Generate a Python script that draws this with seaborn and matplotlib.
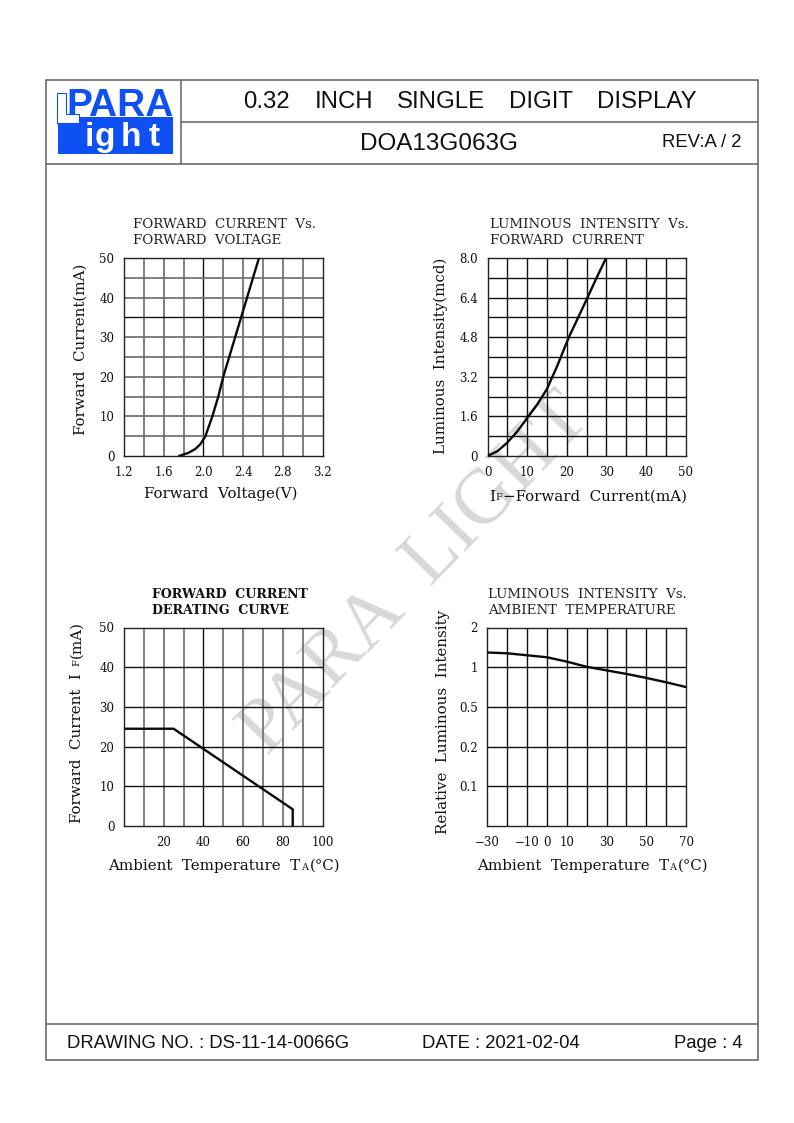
import matplotlib
matplotlib.use("Agg")
import matplotlib.pyplot as plt
from matplotlib.patches import Rectangle, Polygon
import pandas as pd
import seaborn as sns

W, H = 794, 1123
sns.set_theme(style="white")
plt.rcParams["font.family"] = ["DejaVu Serif"]

# ---------- data ----------
fv_voltage = [1.755, 1.85, 1.92, 1.97, 2.02, 2.09, 2.15, 2.20, 2.56]
fv_current = [0, 0.8, 1.8, 3.0, 5.0, 10, 15, 20, 50]
li_current = [0, 2.5, 5, 7.5, 10, 12.5, 15, 17.5, 20.5, 23, 25.2, 27.5, 29.9]
li_mcd = [0, 0.2, 0.55, 1.0, 1.54, 2.08, 2.72, 3.62, 4.8, 5.65, 6.4, 7.2, 8.0]
dr_temp = [0, 25, 85, 85]
dr_current = [24.5, 24.5, 4.2, 0]
rl_temp = [-30, -20, -10, 0, 10, 20, 30, 40, 50, 60, 70]
rl_pos = [4.37, 4.35, 4.30, 4.25, 4.14, 4.01, 3.92, 3.83, 3.73, 3.62, 3.50]

fv_xticks = [1.2, 1.6, 2.0, 2.4, 2.8, 3.2]
fv_yticks = [0, 10, 20, 30, 40, 50]
li_xticks = [0, 10, 20, 30, 40, 50]
li_yticks = [0, 1.6, 3.2, 4.8, 6.4, 8.0]
li_ylabels = ["0", "1.6", "3.2", "4.8", "6.4", "8.0"]
dr_xticks = [20, 40, 60, 80, 100]
dr_yticks = [0, 10, 20, 30, 40, 50]
rl_xticks = [-30, -10, 0, 10, 30, 50, 70]
rl_xlabels = ["\u221230", "\u221210", "0", "10", "30", "50", "70"]
rl_ypos = [1, 2, 3, 4, 5]
rl_ylabels = ["0.1", "0.2", "0.5", "1", "2"]

fig = plt.figure(figsize=(W / 100, H / 100), dpi=100, facecolor="white")


def fx(x):
    return x / W


def fy(y):
    return 1 - y / H


def T(x, y, s, size, ha="left", va="center", **kw):
    return fig.text(fx(x), fy(y), s, fontsize=size, ha=ha, va=va, **kw)


# overlay in pixel coordinates for the page frame and logo
page = fig.add_axes([0, 0, 1, 1], zorder=0)
page.set_xlim(0, W)
page.set_ylim(H, 0)
page.axis("off")
FRAME = "#6e6e6e"
page.add_patch(Rectangle((46, 80), 712, 980, fill=False, ec=FRAME, lw=1.2))
page.plot([46, 758], [164, 164], color=FRAME, lw=1.2)
page.plot([181, 758], [122, 122], color=FRAME, lw=1.2)
page.plot([46, 758], [1024, 1024], color=FRAME, lw=1.2)
page.plot([181, 181], [80, 164], color=FRAME, lw=1.2)

# logo
BLUE = "#0f50f5"
page.add_patch(Rectangle((58, 116.5), 115, 37.5, color=BLUE, lw=0))
page.text(66, 115.5, "PARA", family="Liberation Sans", weight="bold", fontsize=28,
          color=BLUE, ha="left", va="baseline", zorder=3)
page.add_patch(Polygon([(57, 93), (66, 93), (66, 114), (79, 114), (79, 123), (57, 123)],
                       closed=True, fc="white", ec=BLUE, lw=0.8, zorder=4))
for letter, lx in zip("ight", [89, 105, 131, 154]):
    page.text(lx, 146, letter, family="Liberation Sans", weight="bold", fontsize=24,
              color="white", ha="center", va="baseline", zorder=4)

# watermark
page.text(430, 588, "PARA  LIGHT", fontsize=56, family="Liberation Serif",
          color="#d8d8d8", rotation=46, ha="center", va="baseline",
          rotation_mode="anchor", zorder=0.5,
          transform_rotates_text=False)

# header / footer
HF = "Liberation Sans"
INK = "#111111"
for word, wx in zip(["0.32", "INCH", "SINGLE", "DIGIT", "DISPLAY"], [243, 315, 397, 509, 597]):
    T(wx, 102, word, 17.3, family=HF, color=INK)
T(439, 144, "DOA13G063G", 17.5, ha="center", family=HF, color=INK)
T(702, 143, "REV:A / 2", 13.3, ha="center", family=HF, color=INK)
T(67, 1043, "DRAWING NO. : DS-11-14-0066G", 13.3, family=HF, color=INK)
T(422, 1043, "DATE : 2021-02-04", 13.3, family=HF, color=INK)
T(674, 1043, "Page : 4", 13.3, family=HF, color=INK)


def panel(left, top, right, bottom, xs, ys, xlim, ylim, xgrid, ygrid, xticks, xlabels,
          yticks, ylabels, xdark=(), ydark=()):
    ax = fig.add_axes([fx(left), fy(bottom), (right - left) / W, (bottom - top) / H],
                      zorder=2, facecolor="none")
    sns.lineplot(data=pd.DataFrame({"x": xs, "y": ys}), x="x", y="y", sort=False,
                 color="#0a0a0a", lw=1.7, ax=ax, zorder=5, estimator=None)
    ax.set_xlim(*xlim)
    ax.set_ylim(*ylim)
    for v in xgrid:
        dark = v in xdark
        ax.axvline(v, color="#111111" if dark else "#707070", lw=1.0 if dark else 1.25, zorder=1)
    for v in ygrid:
        dark = v in ydark
        ax.axhline(v, color="#111111" if dark else "#707070", lw=1.0 if dark else 1.25, zorder=1)
    ax.set_xticks(xticks, xlabels)
    ax.set_yticks(yticks, ylabels)
    ax.tick_params(length=0, labelsize=8.5, pad=7, colors=INK)
    ax.set_xlabel("")
    ax.set_ylabel("")
    for s in ax.spines.values():
        s.set_color("#222222")
        s.set_linewidth(1.0)
    return ax


TS = 9.65
LS = 10.8

# panel 1
panel(124, 258, 322.5, 456, fv_voltage, fv_current, (1.2, 3.2), (0, 50),
      [1.4, 1.6, 1.8, 2.0, 2.2, 2.4, 2.6, 2.8, 3.0], [5, 10, 15, 20, 25, 30, 35, 40, 45],
      fv_xticks, [str(v) for v in fv_xticks], fv_yticks, [str(v) for v in fv_yticks],
      xdark=(2.0,), ydark=(35,))
T(133, 224, "FORWARD  CURRENT  Vs.", TS, color="#222222")
T(133, 240, "FORWARD  VOLTAGE", TS, color="#222222")
T(144, 494, "Forward  Voltage(V)", LS, color=INK)
T(81, 349, "Forward  Current(mA)", LS, rotation=90, ha="center", color=INK)

# panel 2
panel(487.7, 258, 685.7, 456, li_current, li_mcd, (0, 50), (0, 8),
      [5, 10, 15, 20, 25, 30, 35, 40, 45], [.8, 1.6, 2.4, 3.2, 4.0, 4.8, 5.6, 6.4, 7.2],
      li_xticks, [str(v) for v in li_xticks], li_yticks, li_ylabels,
      xdark=(5, 10, 15, 20, 25, 30, 35, 40, 45), ydark=(.8, 1.6, 2.4, 3.2, 4.0, 4.8, 5.6, 6.4, 7.2))
T(490, 224, "LUMINOUS  INTENSITY  Vs.", TS, color="#222222")
T(490, 240, "FORWARD  CURRENT", TS, color="#222222")
T(489, 497, "I", LS, color=INK)
T(495, 498, "F", 7, color=INK)
T(503, 497, "\u2212Forward  Current(mA)", LS, color=INK)
T(441, 356, "Luminous  Intensity(mcd)", LS, rotation=90, ha="center", color=INK)

# panel 3
panel(124, 627.5, 322.5, 826, dr_temp, dr_current, (0, 100), (0, 50),
      [10, 20, 30, 40, 50, 60, 70, 80, 90], [10, 20, 30, 40],
      dr_xticks, [str(v) for v in dr_xticks], dr_yticks, [str(v) for v in dr_yticks],
      xdark=(40,), ydark=(10, 20, 30, 40))
T(152, 594, "FORWARD  CURRENT", 9.05, color=INK, weight="bold")
T(152, 610, "DERATING  CURVE", 9.05, color=INK, weight="bold")
T(108, 866, "Ambient  Temperature  T", LS, color=INK)
T(301, 867, "A", 7, color=INK)
T(310, 866, "(\u00b0C)", LS, color=INK)
T(77, 823, "Forward  Current  I", LS, rotation=90, ha="center", va="bottom", color=INK)
T(77, 666, "F", 7, rotation=90, ha="center", va="bottom", color=INK)
T(77, 658, "(mA)", LS, rotation=90, ha="center", va="bottom", color=INK)

# panel 4
panel(487.5, 627.5, 686, 826, rl_temp, rl_pos, (-30, 70), (0, 5),
      [-20, -10, 0, 10, 20, 30, 40, 50, 60], rl_ypos[:-1],
      rl_xticks, rl_xlabels, rl_ypos, rl_ylabels,
      xdark=(-20, -10, 0, 10, 20, 30, 40, 50, 60), ydark=(1, 2, 3, 4))
T(488, 594, "LUMINOUS  INTENSITY  Vs.", TS, color="#222222")
T(488, 610, "AMBIENT  TEMPERATURE", TS, color="#222222")
T(477, 866, "Ambient  Temperature  T", LS, color=INK)
T(669, 867, "A", 7, color=INK)
T(678, 866, "(\u00b0C)", LS, color=INK)
T(443, 722, "Relative  Luminous  Intensity", LS, rotation=90, ha="center", color=INK)

fig.savefig("out.png", dpi=100)
